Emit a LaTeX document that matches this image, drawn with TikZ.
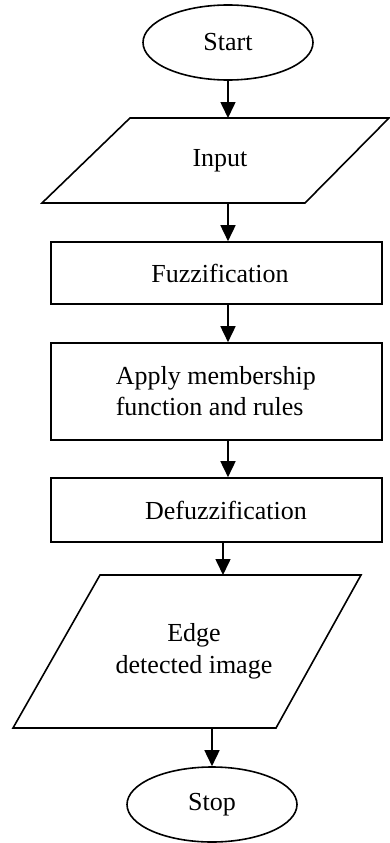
\documentclass[tikz,border=0pt]{standalone}
\usepackage{fontspec}
\setmainfont{Liberation Serif}
\usetikzlibrary{arrows.meta,shapes.geometric}
\begin{document}
\begin{tikzpicture}[x=1pt,y=-1pt,
  line width=1.6pt,
  every node/.style={font=\fontsize{26}{31}\selectfont, inner sep=0pt},
  term/.style={ellipse, draw, minimum width=170pt, minimum height=75pt},
  procbox/.style={rectangle, draw, minimum width=331pt},
  io/.style={draw, line join=miter},
  arr/.style={-{Triangle[length=16pt,width=15pt]}, line width=1.6pt}]
\useasboundingbox (0,0) rectangle (390,843);

% terminals
\node[term] (start) at (228,42.5) {Start};
\node[term] (stop)  at (212,804.5) {Stop};

% input parallelogram
\draw[io] (130,118) -- (389,118) -- (305,203) -- (42,203) -- cycle;
\node (input) at (220,160.5) {Input};
\coordinate (in-top) at (228,118);
\coordinate (in-bot) at (228,203);

% process steps: boxes, then their captions
\node[procbox, minimum height=62pt] (fuzz) at (216.5,273) {};
\node[procbox, minimum height=97pt] (apply) at (216.5,391.5) {};
\node[procbox, minimum height=64pt] (defuzz) at (216.5,510) {};
\node (fuzz-text) at (220,273) {Fuzzification};
\node[align=left, anchor=west] (apply-text) at (115,391) {Apply membership\\function and rules};
\node (defuzz-text) at (226,510) {Defuzzification};

% output parallelogram
\draw[io] (100,575) -- (361,575) -- (276,728) -- (13,728) -- cycle;
\node[align=center, font=\fontsize{26}{32}\selectfont] (edge) at (194,651.5)
  {Edge\\detected image};
\coordinate (edge-top) at (223,575);
\coordinate (edge-bot) at (212,728);

% connectors
\draw[arr] (start.south) -- (in-top);
\draw[arr] (in-bot) -- (in-bot |- fuzz.north);
\draw[arr] ([xshift=11.5pt]fuzz.south) -- ([xshift=11.5pt]apply.north);
\draw[arr] ([xshift=11.5pt]apply.south) -- ([xshift=11.5pt]defuzz.north);
\draw[arr] ([xshift=6.5pt]defuzz.south) -- (edge-top);
\draw[arr] (edge-bot) -- (stop.north);
\end{tikzpicture}
\end{document}
